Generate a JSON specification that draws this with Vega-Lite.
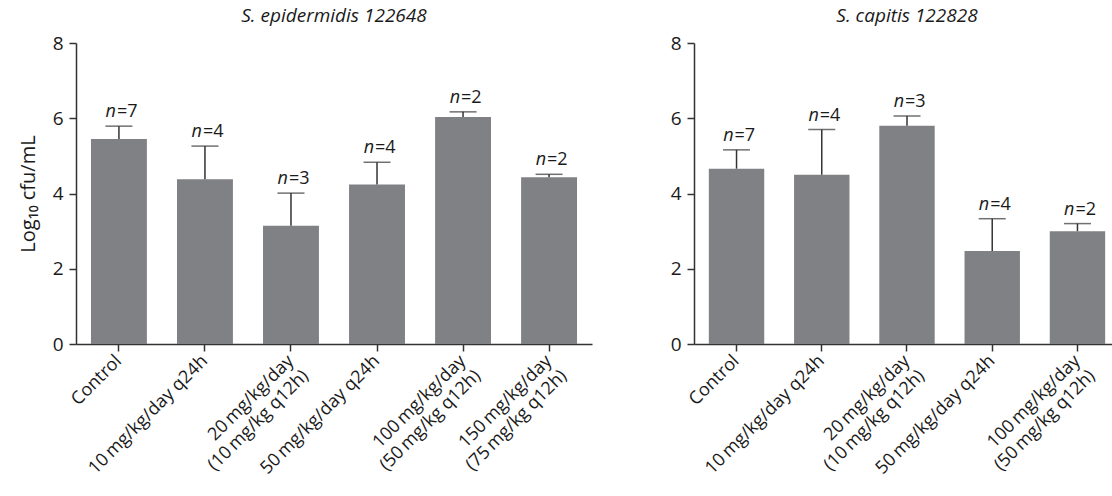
{
  "$schema": "https://vega.github.io/schema/vega-lite/v6.json",
  "padding": {"left": 18, "top": 7, "right": 0, "bottom": 0},
  "background": "white",
  "config": {
    "font": "Open Sans",
    "view": {"stroke": null},
    "axis": {"domainColor": "#333333", "tickColor": "#333333", "labelColor": "#1a1a1a", "titleColor": "#1a1a1a", "domainWidth": 1.5, "tickWidth": 1.5, "tickSize": 7, "grid": false},
    "title": {"fontSize": 19, "fontWeight": "normal", "fontStyle": "italic", "color": "#1a1a1a", "offset": 8}
  },
  "datasets": {
    "bars": [
      {"panel": "A", "group": "Control", "mean": 5.45, "upper": 5.79, "nlab": "=7"},
      {"panel": "A", "group": "10\u2009mg/kg/day q24h", "mean": 4.38, "upper": 5.26, "nlab": "=4"},
      {"panel": "A", "group": "20\u2009mg/kg/day\n(10\u2009mg/kg q12h)", "mean": 3.14, "upper": 4.01, "nlab": "=3"},
      {"panel": "A", "group": "50\u2009mg/kg/day q24h", "mean": 4.24, "upper": 4.83, "nlab": "=4"},
      {"panel": "A", "group": "100\u2009mg/kg/day\n(50\u2009mg/kg q12h)", "mean": 6.03, "upper": 6.17, "nlab": "=2"},
      {"panel": "A", "group": "150\u2009mg/kg/day\n(75\u2009mg/kg q12h)", "mean": 4.43, "upper": 4.51, "nlab": "=2"},
      {"panel": "B", "group": "Control", "mean": 4.66, "upper": 5.16, "nlab": "=7"},
      {"panel": "B", "group": "10\u2009mg/kg/day q24h", "mean": 4.5, "upper": 5.7, "nlab": "=4"},
      {"panel": "B", "group": "20\u2009mg/kg/day\n(10\u2009mg/kg q12h)", "mean": 5.8, "upper": 6.06, "nlab": "=3"},
      {"panel": "B", "group": "50\u2009mg/kg/day q24h", "mean": 2.47, "upper": 3.33, "nlab": "=4"},
      {"panel": "B", "group": "100\u2009mg/kg/day\n(50\u2009mg/kg q12h)", "mean": 3.0, "upper": 3.2, "nlab": "=2"}
    ]
  },
  "spacing": 78,
  "hconcat": [
    {
      "title": {"text": "S. epidermidis 122648"},
      "width": 516,
      "height": 301,
      "data": {"name": "bars"},
      "transform": [{"filter": "datum.panel === 'A'"}],
      "encoding": {
        "x": {"field": "group", "type": "nominal", "sort": null,
          "scale": {"paddingInner": 0.35, "paddingOuter": 0.174},
          "axis": {"title": null, "labelAngle": -45, "labelAlign": "right", "labelBaseline": "middle", "labelFontSize": 18, "labelPadding": 7, "labelExpr": "split(datum.label, '\\n')", "labelLineHeight": 21, "labelLimit": 400}}
      },
      "layer": [
        {"mark": {"type": "bar", "color": "#808185"},
          "encoding": {"y": {"field": "mean", "type": "quantitative", "scale": {"domain": [0, 8]},
            "axis": {"title": "Log₁₀ cfu/mL", "titleFontSize": 20, "titleFontWeight": "normal", "titlePadding": 14, "values": [0, 2, 4, 6, 8], "labelFontSize": 19, "labelPadding": 6}}}},
        {"mark": {"type": "rule", "color": "#333333", "strokeWidth": 1.5},
          "encoding": {"y": {"field": "mean", "type": "quantitative"}, "y2": {"field": "upper"}}},
        {"mark": {"type": "tick", "color": "#333333", "thickness": 1.5, "size": 27},
          "encoding": {"y": {"field": "upper", "type": "quantitative"}}},
        {"mark": {"type": "text", "baseline": "bottom", "align": "right", "dx": -3, "dy": -5, "fontSize": 18, "fontStyle": "italic", "color": "#1a1a1a"},
          "encoding": {"y": {"field": "upper", "type": "quantitative"}, "text": {"value": "n"}}},
        {"mark": {"type": "text", "baseline": "bottom", "align": "left", "dx": -2, "dy": -5, "fontSize": 18, "color": "#1a1a1a"},
          "encoding": {"y": {"field": "upper", "type": "quantitative"}, "text": {"field": "nlab"}}}
      ]
    },
    {
      "title": {"text": "S. capitis 122828"},
      "width": 426,
      "height": 301,
      "data": {"name": "bars"},
      "transform": [{"filter": "datum.panel === 'B'"}],
      "encoding": {
        "x": {"field": "group", "type": "nominal", "sort": null,
          "scale": {"paddingInner": 0.35, "paddingOuter": 0.174},
          "axis": {"title": null, "labelAngle": -45, "labelAlign": "right", "labelBaseline": "middle", "labelFontSize": 18, "labelPadding": 7, "labelExpr": "split(datum.label, '\\n')", "labelLineHeight": 21, "labelLimit": 400}}
      },
      "layer": [
        {"mark": {"type": "bar", "color": "#808185"},
          "encoding": {"y": {"field": "mean", "type": "quantitative", "scale": {"domain": [0, 8]},
            "axis": {"title": null, "values": [0, 2, 4, 6, 8], "labelFontSize": 19, "labelPadding": 6}}}},
        {"mark": {"type": "rule", "color": "#333333", "strokeWidth": 1.5},
          "encoding": {"y": {"field": "mean", "type": "quantitative"}, "y2": {"field": "upper"}}},
        {"mark": {"type": "tick", "color": "#333333", "thickness": 1.5, "size": 27},
          "encoding": {"y": {"field": "upper", "type": "quantitative"}}},
        {"mark": {"type": "text", "baseline": "bottom", "align": "right", "dx": -3, "dy": -5, "fontSize": 18, "fontStyle": "italic", "color": "#1a1a1a"},
          "encoding": {"y": {"field": "upper", "type": "quantitative"}, "text": {"value": "n"}}},
        {"mark": {"type": "text", "baseline": "bottom", "align": "left", "dx": -2, "dy": -5, "fontSize": 18, "color": "#1a1a1a"},
          "encoding": {"y": {"field": "upper", "type": "quantitative"}, "text": {"field": "nlab"}}}
      ]
    }
  ]
}
